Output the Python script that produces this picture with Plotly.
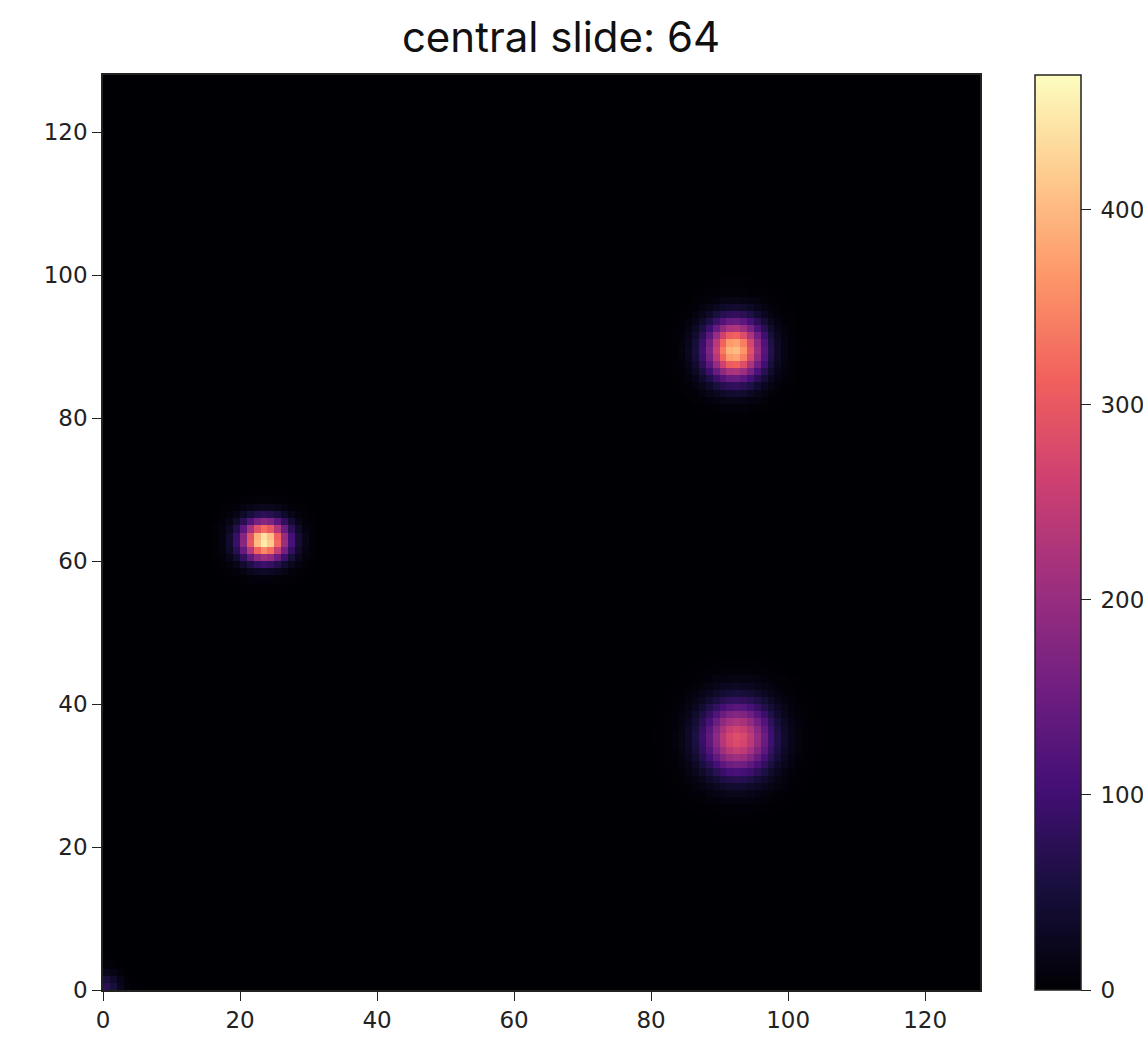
import numpy as np
import plotly.graph_objects as go

# Grid size (central slice of a 128^3 volume)
grid_n = 128

# Point sources
blob_x = [23.6, 92.2, 92.6, 0.3]
blob_y = [62.9, 89.5, 35.2, 0.3]
blob_peak = [462, 405, 285, 75]
blob_sigma_x = [2.3, 2.8, 3.4, 1.4]
blob_sigma_y = [1.9, 2.8, 3.4, 1.4]

z_max = 469
cbar_ticks = [0, 100, 200, 300, 400]
cbar_labels = ["\u2009" + str(v) for v in cbar_ticks]
axis_ticks = [0, 20, 40, 60, 80, 100, 120]
title_text = "central slide: 64"

cx = np.arange(grid_n) + 0.5
cy = np.arange(grid_n) + 0.5
X, Y = np.meshgrid(cx, cy)
Z = np.zeros((grid_n, grid_n))
for bx, by, bp, sx, sy in zip(blob_x, blob_y, blob_peak, blob_sigma_x, blob_sigma_y):
    Z += bp * np.exp(-((X - bx) ** 2) / (2 * sx ** 2) - ((Y - by) ** 2) / (2 * sy ** 2))

W, H = 1143, 1041
L, R, T, B = 103, 980, 75, 990
tick_font = dict(family="DejaVu Sans", size=23, color="#222")

fig = go.Figure(go.Heatmap(
    z=Z, x=cx, y=cy,
    colorscale="Magma", zmin=0, zmax=z_max, zsmooth=False,
    colorbar=dict(
        x=(1035 - L) / (R - L), xanchor="left", xref="paper",
        y=0.5, yanchor="middle", len=1, lenmode="fraction",
        thickness=46, thicknessmode="pixels",
        outlinewidth=1.5, outlinecolor="#222",
        tickvals=cbar_ticks, ticktext=cbar_labels,
        ticks="outside", ticklen=10, tickwidth=1.3, tickcolor="#222",
        tickfont=tick_font,
        xpad=0, ypad=0,
    ),
    hoverinfo="skip",
))

axis_common = dict(
    tickvals=axis_ticks, ticks="outside", ticklen=9, tickwidth=1.3, tickcolor="#222",
    tickfont=tick_font,
    showline=True, linecolor="#222", linewidth=1.5, mirror=True,
    showgrid=False, zeroline=False, range=[0, grid_n],
)

fig.update_layout(
    width=W, height=H,
    margin=dict(l=L, r=W - R, t=T, b=H - B, autoexpand=False),
    paper_bgcolor="white", plot_bgcolor="black",
    xaxis=axis_common,
    yaxis=axis_common,
    title=dict(
        text=title_text, x=561 / W, xref="container", xanchor="center",
        y=1 - 37 / H, yref="container", yanchor="middle",
        font=dict(family="Inter", size=42, color="#111"),
    ),
)

fig.write_html("out.html")
